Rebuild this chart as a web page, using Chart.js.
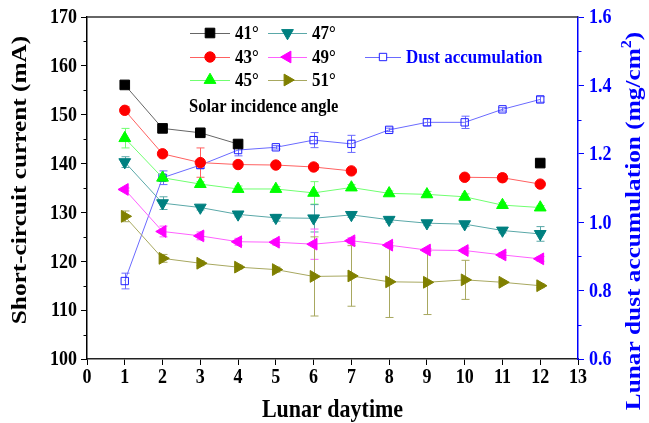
<!DOCTYPE html>
<html>
<head>
<meta charset="utf-8">
<script src="https://cdn.jsdelivr.net/npm/chart.js@4.4.0/dist/chart.umd.min.js"></script>
<style>
  html, body { margin: 0; padding: 0; background: #ffffff; }
  #wrap { width: 649px; height: 423px; }
</style>
</head>
<body>
<div id="wrap"><canvas id="chart" width="649" height="423"></canvas></div>
<script>
// Lunar daytime index
const days = [1, 2, 3, 4, 5, 6, 7, 8, 9, 10, 11, 12];

// Short-circuit current (mA) for each solar incidence angle
const current41 = [156.1, 147.2, 146.3, 144.0, null, null, null, null, null, null, null, 140.1];
const current43 = [150.9, 142.0, 140.2, 139.8, 139.7, 139.3, 138.5, null, null, 137.2, 137.1, 135.8];
const current45 = [145.2, 137.1, 135.8, 134.8, 134.8, 134.0, 135.1, 133.9, 133.7, 133.2, 131.5, 131.0];
const current47 = [140.3, 131.9, 131.0, 129.6, 128.9, 128.8, 129.5, 128.5, 127.8, 127.6, 126.3, 125.6];
const current49 = [134.7, 126.1, 125.2, 124.0, 123.9, 123.5, 124.2, 123.3, 122.3, 122.2, 121.3, 120.5];
const current51 = [129.2, 120.6, 119.6, 118.8, 118.3, 116.9, 117.0, 115.8, 115.7, 116.2, 115.7, 115.0];

// Lunar dust accumulation (mg/cm²)
const dust = [0.828, 1.130, 1.167, 1.211, 1.219, 1.240, 1.229, 1.270, 1.292, 1.292, 1.330, 1.359];

// Standard deviations (error bars)
const err41 = [0.6, 0.6, 0.4, 0.5, 0, 0, 0, 0, 0, 0, 0, 0];
const err43 = [0.8, 0.5, 3.0, 0.4, 0.3, 0.6, 0.3, 0, 0, 0.4, 0.8, 0.3];
const err45 = [2.0, 0.6, 0.5, 0.6, 0.5, 2.3, 0.6, 0.5, 0.6, 0.6, 0.5, 0.4];
const err47 = [1.1, 1.3, 0.5, 0.5, 0.7, 2.8, 0.5, 0.5, 0.5, 0.5, 0.5, 1.5];
const err49 = [0.3, 1.1, 0.8, 0.7, 0.6, 3.1, 0.6, 0.5, 0.3, 0.5, 0.5, 0.5];
const err51 = [1.1, 0.8, 0.5, 0.4, 0.5, 8.1, 6.2, 7.3, 6.6, 4.0, 0.3, 0.4];
const errDust = [0.023, 0.020, 0.010, 0.017, 0.005, 0.022, 0.025, 0.005, 0.010, 0.018, 0.005, 0.008];

// Axis ranges and tick labels
const xTicks = { min: 0, max: 13, step: 1 };
const xLabels = ['0', '1', '2', '3', '4', '5', '6', '7', '8', '9', '10', '11', '12', '13'];
const yTicks = { min: 100, max: 170, step: 10, minor: 5 };
const yLabels = ['100', '110', '120', '130', '140', '150', '160', '170'];
const y2Ticks = { min: 0.6, max: 1.6, step: 0.2, minor: 0.1 };
const y2Labels = ['0.6', '0.8', '1.0', '1.2', '1.4', '1.6'];

const FONT = '"Liberation Serif", "Times New Roman", serif';
const STRETCH = 1.15;   // tall, narrow serif lettering

function pts(vals) {
  return days.map((d, i) => ({ x: d, y: vals[i] }));
}

function series(label, vals, errs, mark, line, style, radius, rotation, axis, fill) {
  return {
    label: label,
    data: pts(vals),
    yAxisID: axis || 'y',
    borderColor: line,
    borderWidth: 1,
    pointStyle: style,
    pointRadius: radius,
    pointHoverRadius: radius,
    pointRotation: rotation,
    pointBackgroundColor: fill || mark,
    pointBorderColor: mark,
    pointBorderWidth: 1,
    spanGaps: false,
    tension: 0,
    errs: errs,
    errColor: line
  };
}

const datasets = [
  series('41°', current41, err41, '#000000', '#666666', 'rect', 6.8, 0),
  series('43°', current43, err43, '#ff0000', '#ff6060', 'circle', 5.2, 0),
  series('45°', current45, err45, '#00ff00', '#70ff70', 'triangle', 6.8, 0),
  series('47°', current47, err47, '#008080', '#5aa8a8', 'triangle', 6.8, 180),
  series('49°', current49, err49, '#ff00ff', '#ff60ff', 'triangle', 6.8, 270),
  series('51°', current51, err51, '#808000', '#a8a860', 'triangle', 6.8, 90),
  series('Dust accumulation', dust, errDust, '#2020ff', '#6a6aff', 'rect', 5.2, 0, 'y2', 'rgba(255,255,255,0)')
];

// Draw a marker with the same geometry Chart.js uses
function drawMarker(ctx, ds, x, y) {
  const r = ds.pointRadius;
  ctx.save();
  ctx.fillStyle = ds.pointBackgroundColor;
  ctx.strokeStyle = ds.pointBorderColor;
  ctx.lineWidth = ds.pointBorderWidth;
  ctx.beginPath();
  if (ds.pointStyle === 'circle') {
    ctx.arc(x, y, r, 0, Math.PI * 2);
  } else if (ds.pointStyle === 'rect') {
    const s = Math.SQRT1_2 * r;
    ctx.rect(x - s, y - s, 2 * s, 2 * s);
  } else {
    let rad = ds.pointRotation * Math.PI / 180;
    ctx.moveTo(x + Math.sin(rad) * r, y - Math.cos(rad) * r);
    rad += 2 * Math.PI / 3;
    ctx.lineTo(x + Math.sin(rad) * r, y - Math.cos(rad) * r);
    rad += 2 * Math.PI / 3;
    ctx.lineTo(x + Math.sin(rad) * r, y - Math.cos(rad) * r);
    ctx.closePath();
  }
  ctx.fill();
  ctx.stroke();
  ctx.restore();
}

// Text helper: horizontal or rotated (bottom-to-top), stretched along the page's vertical
function text(ctx, str, x, y, size, color, align, rotated) {
  ctx.save();
  ctx.font = 'bold ' + size + 'px ' + FONT;
  ctx.fillStyle = color;
  ctx.textAlign = align;
  ctx.textBaseline = 'middle';
  ctx.translate(x, y);
  if (rotated) {
    ctx.rotate(-Math.PI / 2);
    ctx.scale(STRETCH, 1);
  } else {
    ctx.scale(1, STRETCH);
  }
  ctx.fillText(str, 0, 0);
  ctx.restore();
}

// Error bars with caps, drawn beneath the markers
const errorBars = {
  id: 'errorBars',
  beforeDatasetsDraw(chart) {
    const ctx = chart.ctx;
    const xs = chart.scales.x;
    chart.data.datasets.forEach(ds => {
      const ys = chart.scales[ds.yAxisID];
      ctx.save();
      ctx.strokeStyle = ds.errColor;
      ctx.lineWidth = 1;
      ds.data.forEach((p, j) => {
        const e = ds.errs[j];
        if (p.y == null || !e) return;
        const px = Math.round(xs.getPixelForValue(p.x)) + 0.5;
        const t = ys.getPixelForValue(p.y + e);
        const b = ys.getPixelForValue(p.y - e);
        ctx.beginPath();
        ctx.moveTo(px, t); ctx.lineTo(px, b);
        ctx.moveTo(px - 4, t); ctx.lineTo(px + 4, t);
        ctx.moveTo(px - 4, b); ctx.lineTo(px + 4, b);
        ctx.stroke();
      });
      ctx.restore();
    });
  }
};

// Frame, minor ticks, axis labels and titles, and the in-plot legend
const decorations = {
  id: 'decorations',
  afterDraw(chart) {
    const ctx = chart.ctx;
    const a = chart.chartArea;
    const xs = chart.scales.x, y = chart.scales.y, y2 = chart.scales.y2;

    ctx.save();
    // top frame line
    ctx.strokeStyle = '#333333';
    ctx.lineWidth = 1.5;
    ctx.beginPath();
    ctx.moveTo(a.left, a.top); ctx.lineTo(a.right, a.top);
    ctx.stroke();

    // minor ticks, left axis
    ctx.strokeStyle = '#000000';
    ctx.lineWidth = 1;
    for (let v = yTicks.min + yTicks.minor; v < yTicks.max; v += yTicks.step) {
      const py = Math.round(y.getPixelForValue(v)) + 0.5;
      ctx.beginPath(); ctx.moveTo(a.left - 3.5, py); ctx.lineTo(a.left, py); ctx.stroke();
    }
    // minor ticks, right axis
    ctx.strokeStyle = '#0000ff';
    for (let v = y2Ticks.min + y2Ticks.minor; v < y2Ticks.max; v += y2Ticks.step) {
      const py = Math.round(y2.getPixelForValue(v)) + 0.5;
      ctx.beginPath(); ctx.moveTo(a.right, py); ctx.lineTo(a.right + 3.5, py); ctx.stroke();
    }
    ctx.restore();

    // tick labels
    xLabels.forEach((s, i) => {
      text(ctx, s, xs.getPixelForValue(xTicks.min + i * xTicks.step), 378, 18, '#000000', 'center', false);
    });
    yLabels.forEach((s, i) => {
      text(ctx, s, a.left - 10, y.getPixelForValue(yTicks.min + i * yTicks.step) + 1, 18, '#000000', 'right', false);
    });
    y2Labels.forEach((s, i) => {
      text(ctx, s, a.right + 11, y2.getPixelForValue(y2Ticks.min + i * y2Ticks.step) + 1, 18, '#0000ff', 'left', false);
    });

    // axis titles
    text(ctx, 'Lunar daytime', (a.left + a.right) / 2, 410, 22, '#000000', 'center', false);
    text(ctx, 'Short-circuit current (mA)', 20, 180, 22, '#000000', 'center', true);

    // right axis title with superscript
    ctx.save();
    ctx.fillStyle = '#0000ff';
    ctx.textBaseline = 'middle';
    ctx.textAlign = 'left';
    const main = 'Lunar dust accumulation (mg/cm';
    const sup = '2';
    const tail = ')';
    const bigF = 'bold 22px ' + FONT;
    const smallF = 'bold 14px ' + FONT;
    ctx.font = bigF;
    const w1 = ctx.measureText(main).width;
    const w3 = ctx.measureText(tail).width;
    ctx.font = smallF;
    const w2 = ctx.measureText(sup).width;
    const total = w1 + w2 + w3;
    ctx.translate(634, 221);
    ctx.rotate(-Math.PI / 2);
    ctx.scale(STRETCH, 1);
    let sx = -total / 2;
    ctx.font = bigF; ctx.fillText(main, sx, 0); sx += w1;
    ctx.font = smallF; ctx.fillText(sup, sx, -7); sx += w2;
    ctx.font = bigF; ctx.fillText(tail, sx, 0);
    ctx.restore();

    // legend
    const ds = chart.data.datasets;
    const entries = [
      { d: ds[0], x0: 190, x1: 230, y: 33 },
      { d: ds[1], x0: 190, x1: 230, y: 57 },
      { d: ds[2], x0: 190, x1: 230, y: 80 },
      { d: ds[3], x0: 268, x1: 307, y: 33 },
      { d: ds[4], x0: 268, x1: 307, y: 57 },
      { d: ds[5], x0: 268, x1: 307, y: 80 },
      { d: ds[6], x0: 365, x1: 401, y: 57, color: '#0000ff' }
    ];
    entries.forEach(e => {
      ctx.save();
      ctx.strokeStyle = e.d.borderColor;
      ctx.lineWidth = 1;
      ctx.beginPath();
      ctx.moveTo(e.x0, e.y + 0.5); ctx.lineTo(e.x1, e.y + 0.5);
      ctx.stroke();
      const mx = (e.x0 + e.x1) / 2;
      if (e.d.pointBackgroundColor === 'rgba(255,255,255,0)') {
        ctx.fillStyle = '#ffffff';
        const s = Math.SQRT1_2 * e.d.pointRadius;
        ctx.fillRect(mx - s, e.y - s, 2 * s, 2 * s);
      }
      ctx.restore();
      drawMarker(ctx, e.d, mx, e.y);
      text(ctx, e.d.label, e.x1 + 5, e.y + 1, 17, e.color || '#000000', 'left', false);
    });
    text(ctx, 'Solar incidence angle', 189, 107, 16.5, '#000000', 'left', false);
  }
};

new Chart(document.getElementById('chart'), {
  type: 'line',
  data: { datasets: datasets },
  plugins: [errorBars, decorations],
  options: {
    responsive: false,
    animation: false,
    devicePixelRatio: 1,
    layout: { padding: { top: 17, left: 0, right: 0, bottom: 0 } },
    plugins: { legend: { display: false }, tooltip: { enabled: false } },
    scales: {
      x: {
        type: 'linear',
        min: xTicks.min, max: xTicks.max,
        afterFit(s) { s.height = 64; },
        ticks: { stepSize: xTicks.step, display: false },
        grid: { drawOnChartArea: false, drawTicks: true, tickLength: 6, color: '#000000' },
        border: { display: true, color: '#222222', width: 1.5 }
      },
      y: {
        type: 'linear', position: 'left',
        min: yTicks.min, max: yTicks.max,
        afterFit(s) { s.width = 87; },
        ticks: { stepSize: yTicks.step, display: false },
        grid: { drawOnChartArea: false, drawTicks: true, tickLength: 6, color: '#000000' },
        border: { display: true, color: '#000000', width: 1.5 }
      },
      y2: {
        type: 'linear', position: 'right',
        min: y2Ticks.min, max: y2Ticks.max,
        afterFit(s) { s.width = 71; },
        ticks: { stepSize: y2Ticks.step, display: false },
        grid: { drawOnChartArea: false, drawTicks: true, tickLength: 6, color: '#0000ff' },
        border: { display: true, color: '#0000ff', width: 1.5 }
      }
    }
  }
});
</script>
</body>
</html>
